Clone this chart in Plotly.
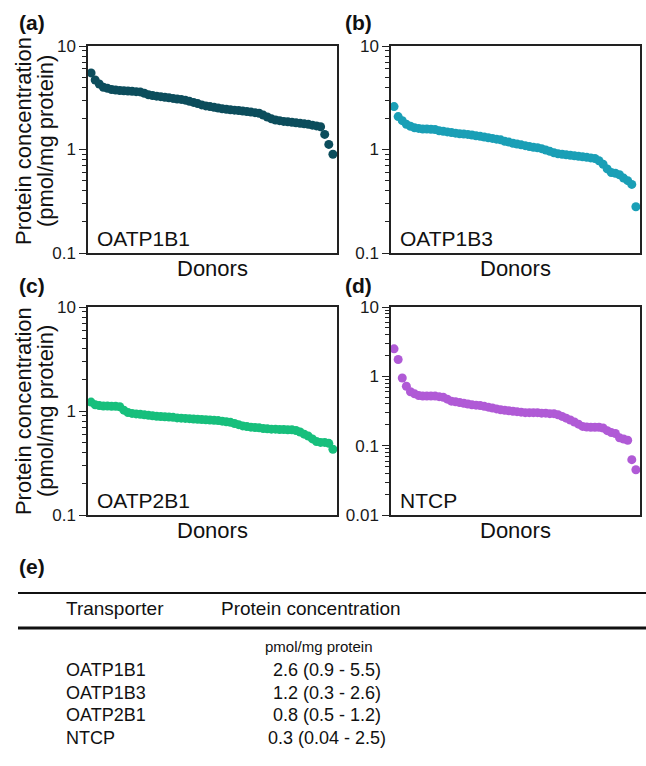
import plotly.graph_objects as go

# ---------------- data ----------------
oatp1b1 = [5.5, 4.7, 4.3, 4.0, 3.9, 3.8, 3.75, 3.72, 3.7, 3.68, 3.65, 3.62, 3.6, 3.5, 3.38,
           3.32, 3.28, 3.24, 3.2, 3.16, 3.12, 3.08, 3.05, 3.0, 2.92, 2.85, 2.78, 2.7, 2.64, 2.6,
           2.56, 2.52, 2.48, 2.45, 2.42, 2.4, 2.38, 2.35, 2.33, 2.3, 2.27, 2.24, 2.15, 2.06, 1.98,
           1.93, 1.9, 1.87, 1.85, 1.83, 1.81, 1.79, 1.77, 1.75, 1.72, 1.69, 1.66, 1.4, 1.12, 0.9]
oatp1b3 = [2.6, 2.08, 1.9, 1.75, 1.68, 1.62, 1.6, 1.58, 1.58, 1.57, 1.56, 1.52, 1.5, 1.48, 1.46,
           1.44, 1.42, 1.41, 1.4, 1.38, 1.36, 1.34, 1.32, 1.3, 1.28, 1.26, 1.24, 1.2, 1.18, 1.15,
           1.13, 1.11, 1.09, 1.07, 1.05, 1.04, 1.02, 0.99, 0.96, 0.93, 0.91, 0.9, 0.89, 0.88, 0.87,
           0.86, 0.85, 0.84, 0.83, 0.82, 0.78, 0.72, 0.65, 0.6, 0.59, 0.57, 0.53, 0.5, 0.46, 0.28]
oatp2b1 = [1.22, 1.15, 1.13, 1.12, 1.12, 1.11, 1.11, 1.1, 1.02, 0.97, 0.95, 0.94, 0.93, 0.92, 0.91,
           0.9, 0.89, 0.885, 0.88, 0.875, 0.87, 0.86, 0.855, 0.85, 0.845, 0.84, 0.835, 0.83, 0.825, 0.82,
           0.815, 0.81, 0.8, 0.79, 0.78, 0.76, 0.74, 0.72, 0.71, 0.7, 0.695, 0.69, 0.68, 0.675, 0.67,
           0.67, 0.665, 0.665, 0.66, 0.66, 0.65, 0.63, 0.6, 0.575, 0.54, 0.51, 0.5, 0.5, 0.49, 0.43]
ntcp = [2.5, 1.75, 0.95, 0.72, 0.6, 0.56, 0.53, 0.52, 0.52, 0.52, 0.52, 0.51, 0.5, 0.47, 0.44,
        0.43, 0.42, 0.41, 0.4, 0.39, 0.385, 0.38, 0.37, 0.36, 0.35, 0.34, 0.33, 0.325, 0.32, 0.315,
        0.31, 0.305, 0.3, 0.3, 0.3, 0.3, 0.295, 0.295, 0.29, 0.29, 0.28, 0.265, 0.25, 0.235, 0.22,
        0.205, 0.19, 0.186, 0.185, 0.185, 0.185, 0.18, 0.165, 0.155, 0.15, 0.13, 0.125, 0.12, 0.063, 0.045]

panel_names = ["OATP1B1", "OATP1B3", "OATP2B1", "NTCP"]
panel_letters = ["(a)", "(b)", "(c)", "(d)"]
panel_values = [oatp1b1, oatp1b3, oatp2b1, ntcp]
panel_colors = ["#0c4d5c", "#1a9fb6", "#17bf7c", "#b05ad6"]
panel_ymin_exp = [-1, -1, -1, -2]

table_header = ["Transporter", "Protein concentration"]
table_unit = "pmol/mg protein"
table_transporters = ["OATP1B1", "OATP1B3", "OATP2B1", "NTCP"]
table_values = ["2.6 (0.9 - 5.5)", "1.2 (0.3 - 2.6)", "0.8 (0.5 - 1.2)", "0.3 (0.04 - 2.5)"]

# ---------------- layout helpers ----------------
W, H = 646, 766
FONT = "Liberation Sans, Arial, Helvetica, sans-serif"
AX = "#222222"
Y_OFF, Y_SCALE = 8.0, 0.975   # empirical correction for the vertical placement


def px(x):
    return x / W


def py(y):
    yc = (y - Y_OFF) / Y_SCALE
    return 1 - yc / H


# panel boxes in window pixels: (left, right, top, bottom)
boxes = [(88, 337, 45, 252), (391, 640, 45, 252), (88, 337, 306, 514), (391, 640, 306, 514)]

fig = go.Figure()
annotations = []
for i, (vals, col, box) in enumerate(zip(panel_values, panel_colors, boxes)):
    n = i + 1
    xa = "x" if n == 1 else f"x{n}"
    ya = "y" if n == 1 else f"y{n}"
    donors = list(range(1, len(vals) + 1))
    fig.add_trace(go.Scatter(x=donors, y=vals, mode="markers", xaxis=xa, yaxis=ya,
                             marker=dict(color=col, size=9, line=dict(width=0)),
                             showlegend=False, hoverinfo="y", cliponaxis=False))
    l, r, t, b = box
    emin = panel_ymin_exp[i]
    majors = [10 ** e for e in range(emin, 2)]
    minors = [m * 10 ** e for e in range(emin, 1) for m in range(2, 10)]
    ticktext = ["0.01" if v == 0.01 else "0.1" if v == 0.1 else str(int(v)) for v in majors]
    fig.update_layout(**{
        ("xaxis" if n == 1 else f"xaxis{n}"): dict(
            domain=[px(l), px(r)], anchor=ya, range=[0.25, 61],
            showticklabels=False, ticks="", showgrid=False, zeroline=False,
            showline=True, linecolor=AX, linewidth=1.5, mirror=True),
        ("yaxis" if n == 1 else f"yaxis{n}"): dict(
            domain=[py(b), py(t)], anchor=xa, type="log", range=[emin, 1],
            tickvals=majors, ticktext=ticktext, ticks="outside", ticklen=7,
            tickwidth=1.2, tickcolor=AX,
            tickfont=dict(family=FONT, size=17, color="#1a1a1a"),
            minor=dict(tickvals=minors, ticks="outside", ticklen=4, tickwidth=1,
                       tickcolor=AX, showgrid=False),
            showgrid=False, zeroline=False,
            showline=True, linecolor=AX, linewidth=1.5, mirror=True),
    })
    # panel name inside plot
    annotations.append(dict(text=panel_names[i], x=px(l + 7), y=py(b - 15), xref="paper", yref="paper",
                            xanchor="left", yanchor="middle", showarrow=False,
                            font=dict(family=FONT, size=21, color="#111")))
    # Donors label
    annotations.append(dict(text="Donors", x=px((l + r) / 2), y=py(b + 15), xref="paper", yref="paper",
                            xanchor="center", yanchor="middle", showarrow=False,
                            font=dict(family=FONT, size=22, color="#111")))
    # panel letters
    lx = 17 if l < 200 else 343
    ly = 21 if t < 200 else 284
    annotations.append(dict(text="<b>" + panel_letters[i] + "</b>", x=px(lx), y=py(ly), xref="paper",
                            yref="paper", xanchor="left", yanchor="middle", showarrow=False,
                            font=dict(family=FONT, size=21, color="#111")))

# y-axis titles on left panels
for cy in (140, 410):
    annotations.append(dict(text="Protein concentration", x=px(23), y=py(cy), xref="paper", yref="paper",
                            textangle=-90, xanchor="center", yanchor="middle", showarrow=False,
                            font=dict(family=FONT, size=22, color="#111")))
    annotations.append(dict(text="(pmol/mg protein)", x=px(45), y=py(cy), xref="paper", yref="paper",
                            textangle=-90, xanchor="center", yanchor="middle", showarrow=False,
                            font=dict(family=FONT, size=22, color="#111")))

# (e) table
annotations.append(dict(text="<b>(e)</b>", x=px(17), y=py(565), xref="paper", yref="paper",
                        xanchor="left", yanchor="middle", showarrow=False,
                        font=dict(family=FONT, size=21, color="#111")))
annotations.append(dict(text=table_header[0], x=px(64), y=py(607), xref="paper", yref="paper",
                        xanchor="left", yanchor="middle", showarrow=False,
                        font=dict(family=FONT, size=19, color="#111")))
annotations.append(dict(text=table_header[1], x=px(311), y=py(607), xref="paper", yref="paper",
                        xanchor="center", yanchor="middle", showarrow=False,
                        font=dict(family=FONT, size=19, color="#111")))
annotations.append(dict(text=table_unit, x=px(319), y=py(645), xref="paper", yref="paper",
                        xanchor="center", yanchor="middle", showarrow=False,
                        font=dict(family=FONT, size=15, color="#111")))
row_y = [669, 691.5, 714, 736.5]
for name, val, yy in zip(table_transporters, table_values, row_y):
    annotations.append(dict(text=name, x=px(64), y=py(yy), xref="paper", yref="paper",
                            xanchor="left", yanchor="middle", showarrow=False,
                            font=dict(family=FONT, size=18, color="#111")))
    annotations.append(dict(text=val, x=px(327), y=py(yy), xref="paper", yref="paper",
                            xanchor="center", yanchor="middle", showarrow=False,
                            font=dict(family=FONT, size=18, color="#111")))

shapes = [
    dict(type="line", xref="paper", yref="paper", x0=px(18), x1=1, y0=py(592), y1=py(592),
         line=dict(color="#111", width=2)),
    dict(type="line", xref="paper", yref="paper", x0=px(18), x1=1, y0=py(627), y1=py(627),
         line=dict(color="#111", width=3)),
]

fig.update_layout(width=W, height=H, autosize=False, margin=dict(l=0, r=0, t=0, b=0),
                  paper_bgcolor="white", plot_bgcolor="white", showlegend=False,
                  annotations=annotations, shapes=shapes, font=dict(family=FONT))

# remove the default page margin so the 646x766 figure fills the window exactly
page_fix = ("document.body.style.margin='0';document.body.style.padding='0';"
            "document.body.style.overflow='hidden';"
            "document.documentElement.style.overflow='hidden';")
fig.write_html("out.html", post_script=page_fix, config={"displayModeBar": False})
